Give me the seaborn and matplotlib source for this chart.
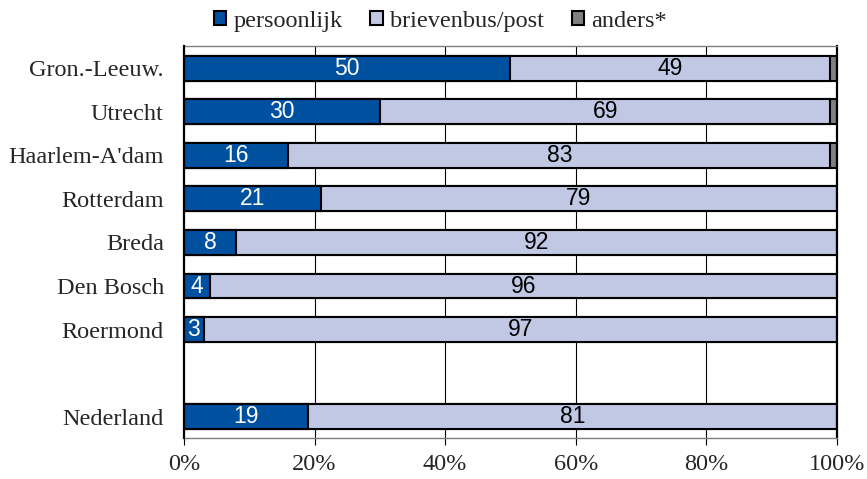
import matplotlib
matplotlib.use("Agg")
import matplotlib.pyplot as plt
from matplotlib.patches import Patch
from matplotlib.ticker import FuncFormatter
import seaborn as sns
import pandas as pd

# Regions and the share of each delivery route (percent)
regions = ["Gron.-Leeuw.", "Utrecht", "Haarlem-A'dam", "Rotterdam",
           "Breda", "Den Bosch", "Roermond", "Nederland"]
persoonlijk = [50, 30, 16, 21, 8, 4, 3, 19]
brievenbus = [49, 69, 83, 79, 92, 96, 97, 81]
anders = [1, 1, 1, 0, 0, 0, 0, 0.4]

series_names = ["persoonlijk", "brievenbus/post", "anders*"]
colors = ["#0050A0", "#C0C8E4", "#808080"]

# Category order with an empty slot before the national total
order = regions[:-1] + [" "] + ["Nederland"]

df = pd.DataFrame({
    "regio": regions,
    "persoonlijk": persoonlijk,
    "brievenbus": brievenbus,
    "anders": anders,
})
df["cum1"] = df["persoonlijk"]
df["cum2"] = df["persoonlijk"] + df["brievenbus"]
df["cum3"] = df["cum2"] + df["anders"]

sns.set_theme(style="white")
plt.rcParams["font.family"] = ["Liberation Serif", "DejaVu Serif"]

fig = plt.figure(figsize=(8.67, 4.79), dpi=100)
ax = fig.add_axes([0.2122, 0.0846, 0.7532, 0.8184])

# Vertical gridlines behind the bars
for gx in [20, 40, 60, 80]:
    ax.axvline(gx, color="black", linewidth=0.8, zorder=0)

bar_kw = dict(orient="h", order=order, width=0.57, edgecolor="black",
              linewidth=1.5, saturation=1, ax=ax, zorder=2)
sns.barplot(data=df, x="cum3", y="regio", color=colors[2], **bar_kw)
sns.barplot(data=df, x="cum2", y="regio", color=colors[1], **bar_kw)
sns.barplot(data=df, x="cum1", y="regio", color=colors[0], **bar_kw)

# Value labels at the centre of each segment
ypos = {name: i for i, name in enumerate(order)}
for _, row in df.iterrows():
    y = ypos[row["regio"]]
    ax.text(row["persoonlijk"] / 2, y, f"{row['persoonlijk']:g}",
            ha="center", va="center", color="white", fontsize=16.5,
            family="Liberation Sans", zorder=5)
    ax.text(row["persoonlijk"] + row["brievenbus"] / 2, y,
            f"{row['brievenbus']:g}", ha="center", va="center",
            color="black", fontsize=16.5, family="Liberation Sans", zorder=5)

ax.set_xlim(0, 100)
ax.set_ylim(len(order) - 0.5, -0.5)
ax.set_xticks([0, 20, 40, 60, 80, 100])
ax.xaxis.set_major_formatter(FuncFormatter(lambda v, _: f"{v:.0f}%"))
ax.set_xlabel("")
ax.set_ylabel("")
ax.tick_params(axis="x", labelsize=17.5, bottom=True, length=5, width=0.8,
               color="black", pad=6)
ax.tick_params(axis="y", labelsize=17.5, left=False, pad=8.5)

for side in ["left", "right"]:
    ax.spines[side].set_color("black")
    ax.spines[side].set_linewidth(1.6)
for side in ["top", "bottom"]:
    ax.spines[side].set_color("#7F7F7F")
    ax.spines[side].set_linewidth(1.0)
ax.spines["left"].set_zorder(6)

handles = [Patch(facecolor=c, edgecolor="black", linewidth=1.5)
           for c in colors]
fig.legend(handles, series_names, loc="center", bbox_to_anchor=(0.508, 0.956),
           ncol=3, frameon=False, fontsize=17.5, handlelength=0.5,
           handleheight=0.5, handletextpad=0.3, columnspacing=1.15,
           borderaxespad=0)

fig.savefig("out.png", dpi=100)
